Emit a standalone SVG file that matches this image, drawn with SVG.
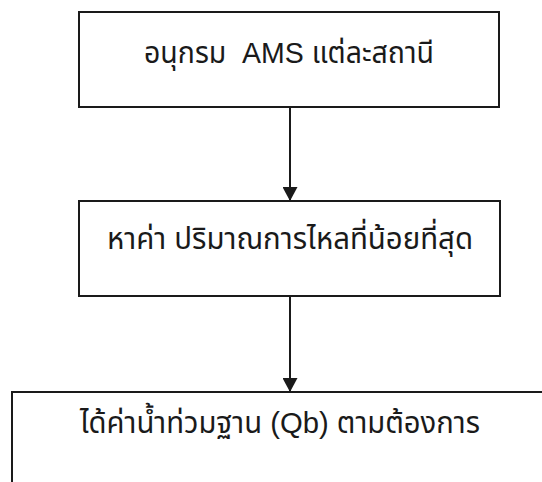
<svg xmlns="http://www.w3.org/2000/svg" width="542" height="482" viewBox="0 0 542 482">
<style>
.box{fill:#ffffff;stroke:#1a1a1a;stroke-width:2}
.lbl{font-family:"Liberation Sans","Noto Sans Thai","Noto Sans",sans-serif;font-size:30px;fill:#1a1a1a;white-space:pre}
.conn{stroke:#1a1a1a;stroke-width:2;fill:none}
</style>
<defs>
<marker id="arr" viewBox="0 0 14 15" refX="14" refY="7.5" markerWidth="14" markerHeight="15" markerUnits="userSpaceOnUse" orient="auto">
<path d="M0,0 L14,7.5 L0,15 z" fill="#1a1a1a"/>
</marker>
</defs>
<rect width="542" height="482" fill="#ffffff"/>
<g id="connectors">
<line class="conn" x1="290" y1="107" x2="290" y2="201" marker-end="url(#arr)"/>
<line class="conn" x1="290" y1="296" x2="290" y2="392" marker-end="url(#arr)"/>
</g>
<g id="node1">
<rect class="box" x="79" y="12" width="420" height="95"/>
<text class="lbl" x="144" y="63" textLength="290" lengthAdjust="spacingAndGlyphs" xml:space="preserve">อนุกรม  AMS แต่ละสถานี</text>
</g>
<g id="node2">
<rect class="box" x="79" y="201" width="421" height="95"/>
<text class="lbl" x="107" y="249" textLength="366" lengthAdjust="spacingAndGlyphs">หาค่า ปริมาณการไหลที่น้อยที่สุด</text>
</g>
<g id="node3">
<rect class="box" x="12" y="392" width="540" height="100"/>
<text class="lbl" x="80" y="433" textLength="400" lengthAdjust="spacingAndGlyphs">ได้ค่าน้ำท่วมฐาน (Qb) ตามต้องการ</text>
</g>
</svg>
